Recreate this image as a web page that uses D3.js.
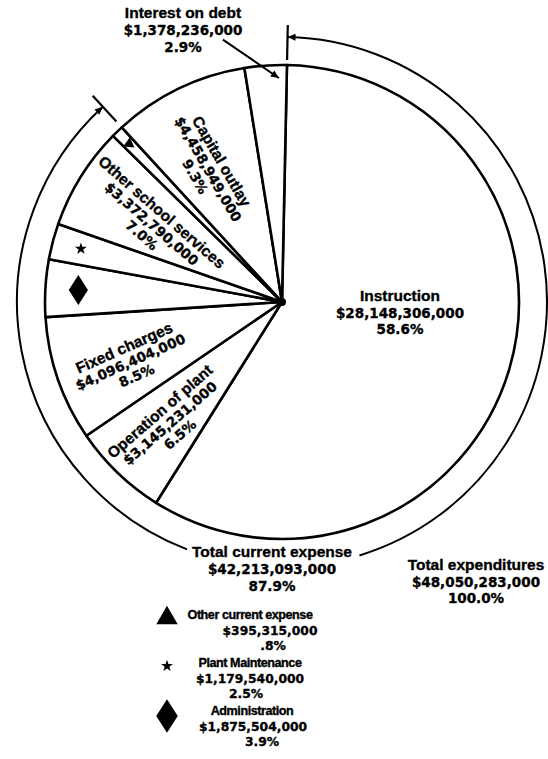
<!DOCTYPE html>
<html><head><meta charset="utf-8">
<script src="https://cdn.jsdelivr.net/npm/d3@7"></script>
<style>
body{margin:0;background:#fff}
text{font-weight:bold;fill:#000;stroke:#000;stroke-width:0.35px}
text.w{font-family:"Liberation Sans",Arial,sans-serif;font-size:15.5px}
text.n{font-family:"DejaVu Sans",sans-serif;font-size:13.5px}
text.lw{font-family:"Liberation Sans",Arial,sans-serif;font-size:12.6px;letter-spacing:-0.45px}
text.ln{font-family:"DejaVu Sans",sans-serif;font-size:12.3px}
</style>
</head><body><svg id="c" width="548" height="759"></svg>
<script>
// ---------- DATA ----------
const categories = ["Instruction","Operation of plant","Fixed charges","Administration","Plant Maintenance","Other school services","Other current expense","Capital outlay","Interest on debt"];
const amounts = [28148306000,3145231000,4096404000,1875504000,1179540000,3372790000,395315000,4458949000,1378236000];
const percents = ["58.6%","6.5%","8.5%","3.9%","2.5%","7.0%",".8%","9.3%","2.9%"];
const markers = [null,null,null,"diamond","star",null,"triangle",null,null];
const totalLabels = ["Total current expense","Total expenditures"];
const totalAmounts = [42213093000,48050283000];
const totalPercents = ["87.9%","100.0%"];
const currentExpenseCount = 7; // first 7 categories form total current expense

// ---------- LAYOUT ----------
const cx = 282, cy = 302, R = 237, Rout = 265;
const D = Math.PI/180;
const startOffset = 1.2*D;
const inside = {
  "Instruction": {deg:95.3, r:118.5, rot:0, lh:16.5},
  "Operation of plant": {deg:222.8, r:165, rot:-41, lh:15},
  "Fixed charges": {deg:248.5, r:163, rot:-24, lh:15},
  "Other school services": {deg:301, r:152, rot:41, lh:15},
  "Capital outlay": {deg:331, r:152, rot:60, lh:15}
};
const markerR = {"diamond":204, "star":208, "triangle":220};

const fmt = v => "$" + d3.format(",")(v);
const polar = (a, r) => [cx + r*Math.sin(a), cy - r*Math.cos(a)];

const svg = d3.select("#c");
const defs = svg.append("defs");
defs.append("marker").attr("id","arr").attr("viewBox","0 0 10 10")
  .attr("refX",10).attr("refY",5).attr("markerWidth",9).attr("markerHeight",8)
  .attr("markerUnits","userSpaceOnUse").attr("orient","auto-start-reverse")
  .append("path").attr("d","M0,0.5 L10,5 L0,9.5 z").attr("fill","#000");

const rows = categories.map((c,i)=>({name:c, amount:amounts[i], pct:percents[i], marker:markers[i]}));
const pie = d3.pie().sort(null).value(d=>d.amount).startAngle(startOffset).endAngle(startOffset+2*Math.PI);
const arcs = pie(rows);
const arcGen = d3.arc().innerRadius(0).outerRadius(R);

const g = svg.append("g").attr("transform",`translate(${cx},${cy})`);
g.selectAll("path.slice").data(arcs).join("path").attr("class","slice")
  .attr("d",arcGen).attr("fill","#fff").attr("stroke","#000")
  .attr("stroke-width",2.6).attr("stroke-linejoin","round");
g.append("circle").attr("r",4).attr("fill","#000");

function symbolPath(type, s){
  if(type==="diamond") return `M0,${-s*0.62}L${s*0.4},0L0,${s*0.62}L${-s*0.4},0Z`;
  if(type==="star") return d3.symbol(d3.symbolStar, s*s*0.55)();
  if(type==="triangle") return d3.symbol(d3.symbolTriangle, s*s*0.45)();
}
arcs.filter(a=>a.data.marker).forEach(a=>{
  const mid=(a.startAngle+a.endAngle)/2;
  const [x,y]=polar(mid, markerR[a.data.marker]);
  const size = a.data.marker==="diamond"?24:(a.data.marker==="star"?9:11);
  let rot = 0;
  if(a.data.marker==="triangle") rot = mid/D - 360 + 90 - 40;
  svg.append("path").attr("d",symbolPath(a.data.marker,size))
    .attr("transform",`translate(${x},${y}) rotate(${rot})`).attr("fill","#000");
});

function lineClass(i, prefix){ return i===0 ? prefix+"w" : prefix+"n"; }

// in-pie labels
arcs.forEach(a=>{
  const L = inside[a.data.name]; if(!L) return;
  const [x,y]=polar(L.deg*D, L.r);
  const t = svg.append("g").attr("transform",`translate(${x},${y}) rotate(${L.rot})`);
  [a.data.name, fmt(a.data.amount), a.data.pct].forEach((s,i)=>{
    t.append("text").attr("class",lineClass(i,"")).attr("text-anchor","middle").attr("y",(i-1)*L.lh+5).text(s);
  });
});

// interest on debt label (outside) with arrow
const interest = arcs[8];
const intPos = {x:183, y:18};
[interest.data.name, fmt(interest.data.amount), interest.data.pct].forEach((s,i)=>{
  svg.append("text").attr("class",lineClass(i,"")).attr("text-anchor","middle").attr("x",intPos.x).attr("y",intPos.y+i*17).text(s);
});
{
  const [x1,y1]=polar(347.3*D, 269);
  const [x2,y2]=polar(359.2*D, 224);
  svg.append("line").attr("x1",x1).attr("y1",y1).attr("x2",x2).attr("y2",y2)
    .attr("stroke","#000").attr("stroke-width",2).attr("marker-end","url(#arr)");
}

// total current expense bracket arc
const ceEnd = arcs[currentExpenseCount-1].endAngle;
const ceStart = arcs[0].startAngle;
const gap = [163*D, 201*D];
function arcPath(a0,a1,r){
  const p=d3.path(); const [sx,sy]=polar(a0,r);
  p.moveTo(sx,sy); p.arc(cx,cy,r,a0-Math.PI/2,a1-Math.PI/2,false); return p.toString();
}
svg.append("path").attr("d",arcPath(ceStart,gap[0],Rout)).attr("fill","none")
  .attr("stroke","#000").attr("stroke-width",2).attr("marker-start","url(#arr)");
svg.append("path").attr("d",arcPath(gap[1],ceEnd,Rout)).attr("fill","none")
  .attr("stroke","#000").attr("stroke-width",2).attr("marker-end","url(#arr)");
[[ceStart,242,277],[ceEnd,245,280]].forEach(([a,r0,r1])=>{
  const [x0,y0]=polar(a,r0),[x1,y1]=polar(a,r1);
  svg.append("line").attr("x1",x0).attr("y1",y0).attr("x2",x1).attr("y2",y1)
    .attr("stroke","#000").attr("stroke-width",2.2);
});

// totals labels
const totPos = [{x:272,y:557,lh:17},{x:476,y:570,lh:16.5}];
totalLabels.forEach((lab,k)=>{
  [lab, fmt(totalAmounts[k]), totalPercents[k]].forEach((s,i)=>{
    svg.append("text").attr("class",lineClass(i,"")).attr("text-anchor","middle").attr("x",totPos[k].x)
      .attr("y",totPos[k].y+i*totPos[k].lh).text(s);
  });
});

// legend for small slices
const legendOrder = [6,4,3];
const legendDx = [[0,20,23],[0,0,-4],[2,3,12]];
legendOrder.forEach((idx,k)=>{
  const d = rows[idx];
  const by = 619 + k*48;
  const size = d.marker==="diamond"?27:(d.marker==="star"?9:21);
  svg.append("path").attr("d",symbolPath(d.marker,size))
    .attr("transform",`translate(167,${by-(d.marker==="diamond"?-1:1)})`).attr("fill","#000");
  [d.name, fmt(d.amount), d.pct].forEach((s,i)=>{
    svg.append("text").attr("class",lineClass(i,"l")).attr("text-anchor","middle").attr("x",250+legendDx[k][i])
      .attr("y",by+i*15.7).text(s);
  });
});
</script>
</body></html>
